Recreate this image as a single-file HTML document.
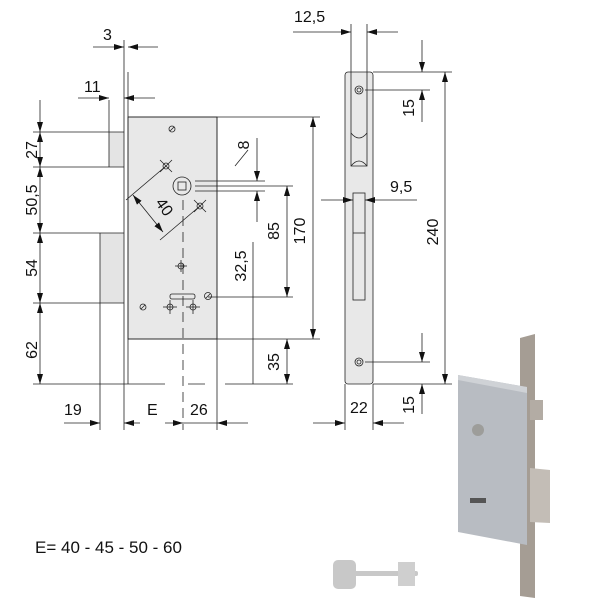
<!DOCTYPE html>
<html><head><meta charset="utf-8"><style>
html,body{margin:0;padding:0;background:#fff;width:600px;height:600px;overflow:hidden}
svg{display:block}
text{font-family:"Liberation Sans",sans-serif;font-size:16px;fill:#111}
</style></head><body>
<svg width="600" height="600" viewBox="0 0 600 600" xmlns="http://www.w3.org/2000/svg">
<defs>
<marker id="a" viewBox="0 0 10 6" refX="10" refY="3" markerWidth="10" markerHeight="6" orient="auto-start-reverse" markerUnits="userSpaceOnUse"><path d="M0,0L10,3L0,6z" fill="#111"/></marker>
</defs>
<g stroke="#222" stroke-width="0.8" fill="none">
<rect x="128" y="117" width="89" height="222" fill="#e8e8e8"/>
<rect x="109" y="132" width="15" height="35" fill="#e4e4e4" stroke="none"/>
<rect x="100" y="233" width="24" height="70" fill="#e4e4e4" stroke="none"/>
<line x1="124" y1="40" x2="124" y2="384"/>
<line x1="128" y1="72" x2="128" y2="384"/>
<line x1="217" y1="117" x2="217" y2="430"/>
<line x1="128" y1="117" x2="320" y2="117"/>
<line x1="128" y1="339" x2="320" y2="339"/>
<line x1="109" y1="100" x2="109" y2="167"/>
<line x1="100" y1="233" x2="100" y2="430"/>
<line x1="33" y1="132" x2="124" y2="132"/>
<line x1="33" y1="167" x2="124" y2="167"/>
<line x1="33" y1="233" x2="124" y2="233"/>
<line x1="33" y1="303" x2="124" y2="303"/>
<line x1="33" y1="384" x2="165" y2="384"/>
<line x1="188" y1="384" x2="205" y2="384"/>
<line x1="225" y1="384" x2="293" y2="384"/>
<line x1="124" y1="384" x2="124" y2="430"/>
<line x1="183" y1="200" x2="183" y2="430" stroke-dasharray="10,6"/>
<line x1="40" y1="100" x2="40" y2="132" marker-end="url(#a)"/>
<line x1="40" y1="132" x2="40" y2="167" marker-start="url(#a)" marker-end="url(#a)"/>
<line x1="40" y1="167" x2="40" y2="233" marker-start="url(#a)" marker-end="url(#a)"/>
<line x1="40" y1="233" x2="40" y2="303" marker-start="url(#a)" marker-end="url(#a)"/>
<line x1="40" y1="303" x2="40" y2="384" marker-start="url(#a)" marker-end="url(#a)"/>
<line x1="93" y1="47" x2="124" y2="47" marker-end="url(#a)"/>
<line x1="158" y1="47" x2="128" y2="47" marker-end="url(#a)"/>
<line x1="78" y1="98" x2="109" y2="98" marker-end="url(#a)"/>
<line x1="155" y1="98" x2="124" y2="98" marker-end="url(#a)"/>
<line x1="64" y1="423" x2="100" y2="423" marker-end="url(#a)"/>
<line x1="124" y1="423" x2="140" y2="423" marker-start="url(#a)"/>
<line x1="165" y1="423" x2="183" y2="423" marker-end="url(#a)"/>
<line x1="217" y1="423" x2="248" y2="423" marker-start="url(#a)"/>
<line x1="183" y1="423" x2="217" y2="423"/>
<circle cx="182" cy="186" r="9"/>
<rect x="178" y="182" width="8" height="8"/>
<line x1="195" y1="181" x2="265" y2="181"/>
<line x1="195" y1="191" x2="265" y2="191"/>
<line x1="195" y1="186" x2="293" y2="186"/>
<line x1="257" y1="138" x2="257" y2="181" marker-end="url(#a)"/>
<line x1="257" y1="222" x2="257" y2="191" marker-end="url(#a)"/>
<line x1="235" y1="166" x2="248" y2="150"/>
<line x1="287" y1="186" x2="287" y2="297" marker-start="url(#a)" marker-end="url(#a)"/>
<line x1="313" y1="117" x2="313" y2="339" marker-start="url(#a)" marker-end="url(#a)"/>
<line x1="253" y1="242" x2="253" y2="384"/>
<line x1="287" y1="339" x2="287" y2="384" marker-start="url(#a)" marker-end="url(#a)"/>
<line x1="208" y1="297" x2="293" y2="297"/>
<line x1="126" y1="200" x2="166" y2="166"/>
<line x1="160" y1="240" x2="200" y2="206"/>
<line x1="133" y1="195" x2="163" y2="232" marker-start="url(#a)" marker-end="url(#a)"/>
<g>
<circle cx="166" cy="166" r="3"/><line x1="160" y1="160" x2="172" y2="172"/><line x1="172" y1="160" x2="160" y2="172"/>
<circle cx="200" cy="206" r="3"/><line x1="194" y1="200" x2="206" y2="212"/><line x1="206" y1="200" x2="194" y2="212"/>
<circle cx="181" cy="266" r="3"/><line x1="175" y1="266" x2="187" y2="266"/><line x1="181" y1="260" x2="181" y2="272"/>
<circle cx="170" cy="307" r="3"/><line x1="163" y1="307" x2="177" y2="307"/><line x1="170" y1="300" x2="170" y2="314"/>
<circle cx="193" cy="307" r="3"/><line x1="186" y1="307" x2="200" y2="307"/><line x1="193" y1="300" x2="193" y2="314"/>
<circle cx="172" cy="129" r="3"/><line x1="170" y1="131" x2="174" y2="127"/>
<circle cx="143" cy="307" r="3"/><line x1="141" y1="309" x2="145" y2="305"/>
<circle cx="208" cy="296" r="3.5"/><line x1="206" y1="298" x2="210" y2="294"/>
</g>
<rect x="170" y="294" width="25" height="5" rx="2"/>
<rect x="345" y="72" width="28" height="312" rx="3" fill="#e8e8e8"/>
<path d="M351 72V166h16V72"/>
<path d="M351 133q8,10 16,0M351 166q8,-10 16,0"/>
<rect x="353" y="193" width="12" height="107"/>
<line x1="353" y1="233" x2="365" y2="233"/>
<circle cx="359" cy="90" r="4"/><circle cx="359" cy="90" r="2"/>
<circle cx="359" cy="362" r="4"/><circle cx="359" cy="362" r="2"/>
<line x1="351" y1="24" x2="351" y2="72"/>
<line x1="367" y1="24" x2="367" y2="72"/>
<line x1="293" y1="32" x2="351" y2="32" marker-end="url(#a)"/>
<line x1="398" y1="32" x2="367" y2="32" marker-end="url(#a)"/>
<line x1="321" y1="200" x2="353" y2="200" marker-end="url(#a)"/>
<line x1="417" y1="200" x2="365" y2="200" marker-end="url(#a)"/>
<line x1="373" y1="72" x2="452" y2="72"/>
<line x1="365" y1="90" x2="430" y2="90"/>
<line x1="365" y1="362" x2="430" y2="362"/>
<line x1="373" y1="384" x2="452" y2="384"/>
<line x1="445" y1="72" x2="445" y2="384" marker-start="url(#a)" marker-end="url(#a)"/>
<line x1="422" y1="40" x2="422" y2="72" marker-end="url(#a)"/>
<line x1="422" y1="122" x2="422" y2="90" marker-end="url(#a)"/>
<line x1="422" y1="333" x2="422" y2="362" marker-end="url(#a)"/>
<line x1="422" y1="414" x2="422" y2="384" marker-end="url(#a)"/>
<line x1="345" y1="384" x2="345" y2="430"/>
<line x1="373" y1="384" x2="373" y2="430"/>
<line x1="313" y1="423" x2="345" y2="423" marker-end="url(#a)"/>
<line x1="404" y1="423" x2="373" y2="423" marker-end="url(#a)"/>
</g>
<text x="103" y="40">3</text>
<text x="84" y="92">11</text>
<text transform="translate(37,150) rotate(-90)" text-anchor="middle">27</text>
<text transform="translate(37,200) rotate(-90)" text-anchor="middle">50,5</text>
<text transform="translate(37,268) rotate(-90)" text-anchor="middle">54</text>
<text transform="translate(37,350) rotate(-90)" text-anchor="middle">62</text>
<text x="64" y="415">19</text>
<text x="147" y="415">E</text>
<text x="190" y="415">26</text>
<text transform="translate(160,210) rotate(55)" text-anchor="middle">40</text>
<text transform="translate(249,145) rotate(-90)" text-anchor="middle">8</text>
<text transform="translate(279,231) rotate(-90)" text-anchor="middle">85</text>
<text transform="translate(305,231) rotate(-90)" text-anchor="middle">170</text>
<text transform="translate(246,266) rotate(-90)" text-anchor="middle">32,5</text>
<text transform="translate(279,362) rotate(-90)" text-anchor="middle">35</text>
<text x="294" y="22">12,5</text>
<text x="390" y="192">9,5</text>
<text transform="translate(438,232) rotate(-90)" text-anchor="middle">240</text>
<text transform="translate(414,108) rotate(-90)" text-anchor="middle">15</text>
<text transform="translate(414,405) rotate(-90)" text-anchor="middle">15</text>
<text x="350" y="413">22</text>
<text x="35" y="553" style="font-size:17px">E= 40 - 45 - 50 - 60</text>
<polygon points="520,338 535,334 535,598 520,596" fill="#a59d94"/>
<polygon points="458,375 527,387 527,545 458,532" fill="#b8bcc2"/>
<polygon points="458,375 527,387 527,393 458,380" fill="#cfd2d6"/>
<polygon points="530,400 543,400 543,420 530,420" fill="#b3aca4"/>
<polygon points="530,468 550,470 550,523 530,522" fill="#c3bdb6"/>
<circle cx="478" cy="430" r="6" fill="#9d9d9a"/>
<rect x="470" y="498" width="16" height="5" fill="#555"/>
<rect x="333" y="560" width="23" height="29" rx="5" fill="#c8c8c8"/>
<rect x="354" y="571" width="64" height="5" rx="2" fill="#c8c8c8"/>
<rect x="398" y="562" width="17" height="24" fill="#cfcfcf"/>
</svg>
</body></html>
